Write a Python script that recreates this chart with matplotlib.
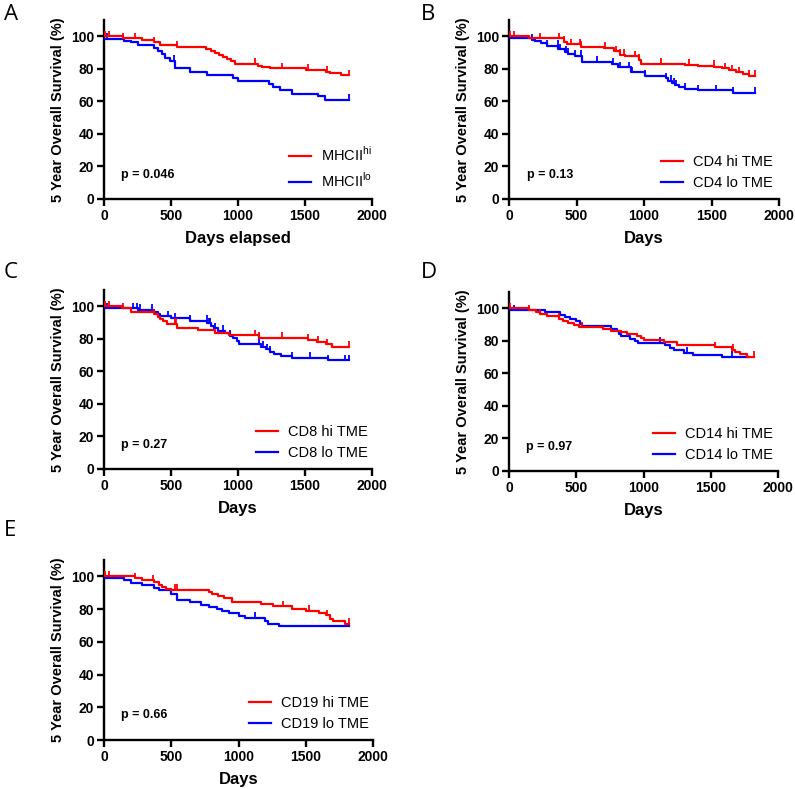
import numpy as np
import matplotlib
matplotlib.use('Agg')
import matplotlib.pyplot as plt

plt.rcParams['font.family'] = 'Liberation Sans'
plt.rcParams['mathtext.fontset'] = 'custom'
plt.rcParams['mathtext.rm'] = 'Liberation Sans'

# Panel A - MHCII
a_hi_t = [0, 140, 280, 370, 420, 545, 760, 800, 830, 860, 890, 920, 950, 980, 1150, 1180, 1240, 1510, 1660, 1690, 1770, 1825]
a_hi_s = [100, 98.8, 97.5, 96.2, 94.9, 93.6, 92.3, 91.0, 89.7, 88.4, 87.1, 85.8, 84.5, 83.2, 82.0, 81.2, 80.3, 79.3, 78.2, 77.2, 76.0, 76.0]
a_hi_c = [10, 40, 145, 230, 370, 545, 1125, 1330, 1525, 1665, 1825]
a_lo_t = [0, 150, 200, 250, 370, 400, 430, 455, 490, 530, 640, 770, 960, 1000, 1230, 1260, 1310, 1400, 1600, 1650, 1825]
a_lo_s = [98.5, 97.3, 96.4, 94.6, 93.0, 90.9, 88.9, 86.8, 84.8, 80.2, 77.9, 76.1, 74.3, 72.4, 70.4, 68.7, 66.9, 64.6, 63.0, 60.9, 60.9]
a_lo_c = [20, 525, 1825]

# Panel B - CD4
b_hi_t = [0, 150, 410, 430, 530, 700, 780, 820, 860, 960, 975, 1300, 1400, 1520, 1580, 1630, 1680, 1730, 1780, 1825]
b_hi_s = [100, 98.8, 96.5, 95.0, 93.6, 92.8, 90.8, 88.7, 87.7, 85.6, 83.0, 82.6, 82.0, 81.4, 80.2, 79.0, 77.8, 76.6, 75.6, 75.6]
b_hi_c = [10, 40, 230, 370, 410, 460, 525, 535, 710, 790, 820, 850, 930, 960, 1125, 1330, 1515, 1600, 1650, 1700, 1780, 1825]
b_lo_t = [0, 170, 190, 240, 280, 366, 415, 440, 490, 540, 760, 810, 900, 1010, 1160, 1180, 1205, 1230, 1260, 1300, 1400, 1660, 1825]
b_lo_s = [98.8, 98.0, 97.1, 96.1, 94.0, 92.0, 90.5, 89.3, 87.9, 84.2, 83.0, 80.9, 77.8, 75.8, 74.2, 72.6, 71.0, 69.8, 68.6, 67.6, 66.7, 65.1, 65.1]
b_lo_c = [170, 280, 365, 380, 420, 440, 490, 530, 650, 770, 820, 890, 910, 1010, 1165, 1200, 1220, 1240, 1300, 1400, 1530, 1660, 1825]

# Panel C - CD8
c_hi_t = [0, 135, 200, 370, 400, 420, 440, 470, 545, 700, 830, 930, 1160, 1520, 1590, 1660, 1700, 1825]
c_hi_s = [100, 98.8, 96.5, 95.0, 93.6, 92.2, 90.8, 89.4, 86.5, 85.2, 83.6, 82.1, 80.7, 79.4, 78.0, 76.6, 75.0, 75.0]
c_hi_c = [10, 40, 140, 375, 530, 540, 1125, 1160, 1330, 1525, 1600, 1665, 1825]
c_lo_t = [0, 250, 370, 400, 420, 500, 640, 770, 800, 820, 850, 900, 940, 960, 990, 1010, 1170, 1210, 1240, 1270, 1320, 1400, 1670, 1825]
c_lo_s = [98.8, 97.6, 96.3, 95.0, 93.8, 92.5, 90.9, 89.5, 88.0, 86.5, 84.8, 83.3, 81.8, 80.3, 78.8, 76.9, 75.2, 73.6, 72.0, 70.8, 69.4, 68.4, 66.7, 66.7]
c_lo_c = [20, 220, 245, 270, 360, 480, 530, 645, 765, 780, 790, 830, 890, 940, 1160, 1190, 1220, 1240, 1400, 1540, 1670, 1800, 1825]

# Panel D - CD14
d_hi_t = [0, 150, 200, 230, 280, 370, 400, 440, 480, 520, 700, 760, 830, 880, 950, 980, 1000, 1150, 1250, 1530, 1660, 1680, 1720, 1770, 1825]
d_hi_s = [100, 98.8, 97.6, 96.2, 95.0, 93.7, 92.4, 91.1, 89.8, 88.2, 87.0, 86.2, 85.4, 84.4, 83.2, 82.0, 80.6, 79.2, 77.4, 76.0, 74.5, 73.0, 71.6, 70.3, 70.3]
d_hi_c = [10, 150, 230, 370, 540, 1530, 1665, 1825]
d_lo_t = [0, 270, 380, 420, 450, 500, 530, 540, 760, 800, 820, 830, 900, 940, 960, 1160, 1200, 1230, 1300, 1370, 1580, 1780]
d_lo_s = [98.8, 97.5, 96.0, 94.6, 93.4, 92.0, 90.4, 88.9, 87.5, 86.0, 84.3, 82.7, 81.2, 79.8, 78.7, 77.2, 75.7, 74.2, 72.7, 71.3, 70.0, 70.0]
d_lo_c = [35, 1120, 1325, 1660]

# Panel E - CD19
e_hi_t = [0, 230, 280, 370, 410, 430, 460, 500, 780, 800, 850, 890, 950, 1170, 1260, 1400, 1500, 1600, 1650, 1680, 1700, 1790, 1825]
e_hi_s = [100, 98.8, 97.5, 96.3, 95.0, 93.6, 92.4, 91.8, 90.6, 89.4, 88.0, 86.6, 84.6, 83.1, 81.6, 80.1, 78.8, 77.5, 76.2, 74.2, 72.5, 71.0, 71.0]
e_hi_c = [10, 40, 230, 365, 530, 545, 1330, 1525, 1660, 1825]
e_lo_t = [0, 150, 200, 280, 370, 410, 500, 540, 640, 720, 780, 840, 880, 930, 1000, 1050, 1200, 1220, 1300, 1825]
e_lo_s = [98.8, 97.5, 96.0, 95.0, 93.0, 91.5, 89.5, 85.7, 84.2, 82.8, 81.5, 80.2, 78.8, 77.4, 76.0, 74.7, 72.5, 71.0, 69.5, 69.5]
e_lo_c = [1120]

letters = ['A', 'B', 'C', 'D', 'E']
hi_labels = ['MHCII$^{\\mathrm{hi}}$', 'CD4 hi TME', 'CD8 hi TME', 'CD14 hi TME', 'CD19 hi TME']
lo_labels = ['MHCII$^{\\mathrm{lo}}$', 'CD4 lo TME', 'CD8 lo TME', 'CD14 lo TME', 'CD19 lo TME']
p_values = ['p = 0.046', 'p = 0.13', 'p = 0.27', 'p = 0.97', 'p = 0.66']
xlabels = ['Days elapsed', 'Days', 'Days', 'Days', 'Days']

hi_data = [(a_hi_t, a_hi_s, a_hi_c), (b_hi_t, b_hi_s, b_hi_c), (c_hi_t, c_hi_s, c_hi_c),
           (d_hi_t, d_hi_s, d_hi_c), (e_hi_t, e_hi_s, e_hi_c)]
lo_data = [(a_lo_t, a_lo_s, a_lo_c), (b_lo_t, b_lo_s, b_lo_c), (c_lo_t, c_lo_s, c_lo_c),
           (d_lo_t, d_lo_s, d_lo_c), (e_lo_t, e_lo_s, e_lo_c)]

W, H = 795, 789
# axes boxes in pixels: left, right, y of zero, y of top
boxes = [(104, 372, 199, 20), (509, 779, 199, 20), (104, 372, 469, 290),
         (509, 778, 471, 292), (104, 373, 740, 560)]
letter_pos = [(4, 4), (421, 4), (4, 262), (421, 262), (4, 520)]
leg_right = [1.0, 0.978, 0.985, 0.981, 0.985]

fig = plt.figure(figsize=(W / 100, H / 100), dpi=100)


def km(ax, t, s, c, color, label):
    t = np.array(t)
    s = np.array(s)
    ax.step(t, s, where='post', color=color, lw=1.6, label=label, zorder=3)
    c = np.array(c)
    idx = np.searchsorted(t, c, side='right') - 1
    ax.vlines(c, s[idx], s[idx] + 3.5, color=color, lw=1.3, zorder=3)


for i in range(5):
    l, r, y0, yt = boxes[i]
    ax = fig.add_axes([l / W, 1 - y0 / H, (r - l) / W, (y0 - yt) / H])
    km(ax, *lo_data[i], '#0000FF', lo_labels[i])
    km(ax, *hi_data[i], '#FF0000', hi_labels[i])
    ax.set_xlim(0, 2000)
    ax.set_ylim(0, 110)
    ax.set_xticks([0, 500, 1000, 1500, 2000])
    ax.set_yticks([0, 20, 40, 60, 80, 100])
    ax.spines['top'].set_visible(False)
    ax.spines['right'].set_visible(False)
    ax.spines['left'].set_linewidth(1.7)
    ax.spines['bottom'].set_linewidth(1.7)
    ax.tick_params(direction='out', length=5, width=1.7, labelsize=10, pad=2)
    for lab in ax.get_xticklabels() + ax.get_yticklabels():
        lab.set_fontweight('bold')
    ax.set_xlabel(xlabels[i], fontsize=12, fontweight='bold', labelpad=6)
    ax.set_ylabel('5 Year Overall Survival (%)', fontsize=10.5, fontweight='bold', labelpad=4)
    ax.text(130, 15, p_values[i], fontsize=9, fontweight='bold', va='center')
    handles, labels = ax.get_legend_handles_labels()
    ax.legend(handles[::-1], labels[::-1], loc='lower right', bbox_to_anchor=(leg_right[i], 0.05),
              frameon=False, fontsize=10.5, handlelength=1.5, handletextpad=0.7,
              labelspacing=0.5, borderpad=0, borderaxespad=0)
    fig.text(letter_pos[i][0] / W, 1 - letter_pos[i][1] / H, letters[i],
             fontsize=16, family='Open Sans', va='top', ha='left')

fig.savefig('out.png', dpi=100)
